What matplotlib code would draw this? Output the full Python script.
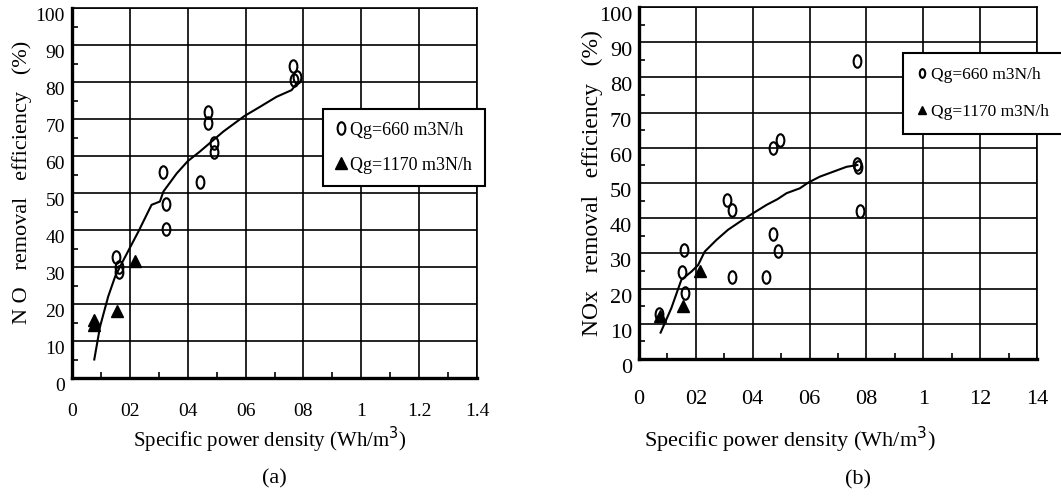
import matplotlib
matplotlib.use("Agg")
import matplotlib.pyplot as plt
from matplotlib.path import Path
import matplotlib.transforms as mtransforms
from matplotlib.ticker import MultipleLocator

plt.rcParams['font.family'] = ['Liberation Serif', 'DejaVu Serif']

# ---------------- data ----------------
x_ticks = [0, 0.2, 0.4, 0.6, 0.8, 1.0, 1.2, 1.4]
a_xticklabels = ['0', '02', '04', '06', '08', '1', '1.2', '1.4']
b_xticklabels = ['0', '02', '04', '06', '08', '1', '12', '14']
y_ticks = [0, 10, 20, 30, 40, 50, 60, 70, 80, 90, 100]

# (a) NO removal
a_x_660 = [0.764, 0.777, 0.767, 0.471, 0.471, 0.492, 0.492, 0.316, 0.442, 0.325, 0.325, 0.152, 0.164, 0.164]
a_y_660 = [84.3, 81.3, 80.5, 72.0, 68.8, 63.4, 61.0, 55.6, 53.0, 47.0, 40.3, 32.6, 30.0, 28.7]
a_x_1170 = [0.077, 0.077, 0.154, 0.217]
a_y_1170 = [15.7, 14.3, 18.0, 31.5]
a_fit_x = [0.077, 0.097, 0.125, 0.149, 0.172, 0.229, 0.275, 0.304, 0.316, 0.362, 0.400,
           0.442, 0.523, 0.596, 0.650, 0.707, 0.759, 0.777]
a_fit_y = [5.0, 13.9, 22.0, 27.4, 31.0, 39.5, 46.8, 47.7, 50.4, 55.3, 58.6,
           61.2, 66.6, 70.8, 73.3, 76.0, 77.8, 79.6]

# (b) NOx removal
b_x_660 = [0.768, 0.472, 0.495, 0.768, 0.770, 0.777, 0.310, 0.327, 0.472, 0.489,
           0.158, 0.153, 0.161, 0.327, 0.445, 0.070]
b_y_660 = [84.7, 60.0, 62.2, 55.3, 54.6, 42.1, 45.2, 42.3, 35.4, 30.8,
           31.0, 24.7, 18.7, 23.4, 23.4, 12.8]
b_x_1170 = [0.073, 0.155, 0.214]
b_y_1170 = [12.1, 15.1, 25.1]
b_fit_x = [0.076, 0.114, 0.149, 0.184, 0.208, 0.231, 0.272, 0.313, 0.355, 0.401, 0.449,
           0.487, 0.519, 0.566, 0.595, 0.636, 0.683, 0.730, 0.768]
b_fit_y = [7.5, 14.5, 22.5, 24.8, 26.7, 30.5, 33.8, 36.7, 39.0, 41.4, 43.8,
           45.4, 47.1, 48.5, 50.1, 51.8, 53.2, 54.6, 55.1]

label_660 = 'Qg=660 m3N/h'
label_1170 = 'Qg=1170 m3N/h'

# ---------------- figure ----------------
W, H = 1061, 499
fig = plt.figure(figsize=(W / 100, H / 100), dpi=100)

ell = Path.unit_circle().transformed(mtransforms.Affine2D().scale(0.62, 1.0))


def px_rect(x0, y0, x1, y1):
    return [x0 / W, 1 - y1 / H, (x1 - x0) / W, (y1 - y0) / H]


def style_axes(ax, xlabels, tick_fs, xpad, ypad):
    ax.set_xlim(0, 1.4)
    ax.set_ylim(0, 100)
    ax.set_xticks(x_ticks)
    ax.set_xticklabels(xlabels)
    ax.set_yticks(y_ticks)
    ax.xaxis.set_minor_locator(MultipleLocator(0.1))
    ax.yaxis.set_minor_locator(MultipleLocator(5))
    ax.grid(True, which='major', color='black', linewidth=1.2)
    ax.set_axisbelow(True)
    ax.tick_params(which='both', direction='in', top=False, right=False)
    ax.tick_params(which='major', length=0, labelsize=tick_fs)
    ax.tick_params(which='minor', length=4, width=1.2)
    ax.tick_params(axis='x', which='major', pad=xpad)
    ax.tick_params(axis='y', which='major', pad=ypad)
    for s in ['left', 'bottom']:
        ax.spines[s].set_linewidth(2.4)
    for s in ['top', 'right']:
        ax.spines[s].set_linewidth(1.2)
    for lab in ax.get_yticklabels():
        lab.set_verticalalignment('top')


# (a)
axa = fig.add_axes(px_rect(72, 8, 477, 378))
style_axes(axa, a_xticklabels, 14, 18, 5)
axa.plot(a_fit_x, a_fit_y, color='black', linewidth=1.5, zorder=3)
axa.plot(a_x_660, a_y_660, linestyle='none', marker=ell, markersize=9,
         markerfacecolor='none', markeredgecolor='black', markeredgewidth=1.5,
         label=label_660, zorder=4)
axa.plot(a_x_1170, a_y_1170, linestyle='none', marker='^', markersize=9,
         color='black', label=label_1170, zorder=4)
axa.set_ylabel('N O   removal   efficiency   (%)', fontsize=16, va='center')
axa.yaxis.set_label_coords(-(72 - 22) / 405, 0.53)
leg_a = axa.legend(loc='upper left', bbox_to_anchor=(323 / W, 1 - 109 / H),
                   bbox_transform=fig.transFigure, fancybox=False, edgecolor='black',
                   framealpha=1, fontsize=13, handlelength=0.6, handletextpad=0.2,
                   labelspacing=1.0, borderpad=0.7, borderaxespad=0)
leg_a.get_frame().set_linewidth(1.5)

# (b)
axb = fig.add_axes(px_rect(639, 7, 1037, 359))
style_axes(axb, b_xticklabels, 16, 22, 5)
axb.plot(b_fit_x, b_fit_y, color='black', linewidth=1.5, zorder=3)
axb.plot(b_x_660, b_y_660, linestyle='none', marker=ell, markersize=9,
         markerfacecolor='none', markeredgecolor='black', markeredgewidth=1.5,
         label=label_660, zorder=4)
axb.plot(b_x_1170, b_y_1170, linestyle='none', marker='^', markersize=9,
         color='black', label=label_1170, zorder=4)
axb.set_ylabel('NOx   removal   efficiency   (%)', fontsize=17, va='center')
axb.yaxis.set_label_coords(-(639 - 592) / 398, 0.50)
leg_b = axb.legend(loc='upper left', bbox_to_anchor=(903 / W, 1 - 53 / H),
                   bbox_transform=fig.transFigure, fancybox=False, edgecolor='black',
                   framealpha=1, fontsize=12.5, handlelength=0.6, handletextpad=0.2,
                   labelspacing=1.2, borderpad=0.8, borderaxespad=0, markerscale=0.7)
leg_b.get_frame().set_linewidth(1.5)

# x labels and panel captions
fig.text(270 / W, 1 - 440 / H, 'Specific power density (Wh/m$^3$)', ha='center', va='center', fontsize=15)
fig.text(790 / W, 1 - 440 / H, 'Specific power density (Wh/m$^3$)', ha='center', va='center', fontsize=16)
fig.text(274 / W, 1 - 479 / H, '(a)', ha='center', va='center', fontsize=16)
fig.text(858 / W, 1 - 480 / H, '(b)', ha='center', va='center', fontsize=16)

fig.savefig('out.png', dpi=100)
